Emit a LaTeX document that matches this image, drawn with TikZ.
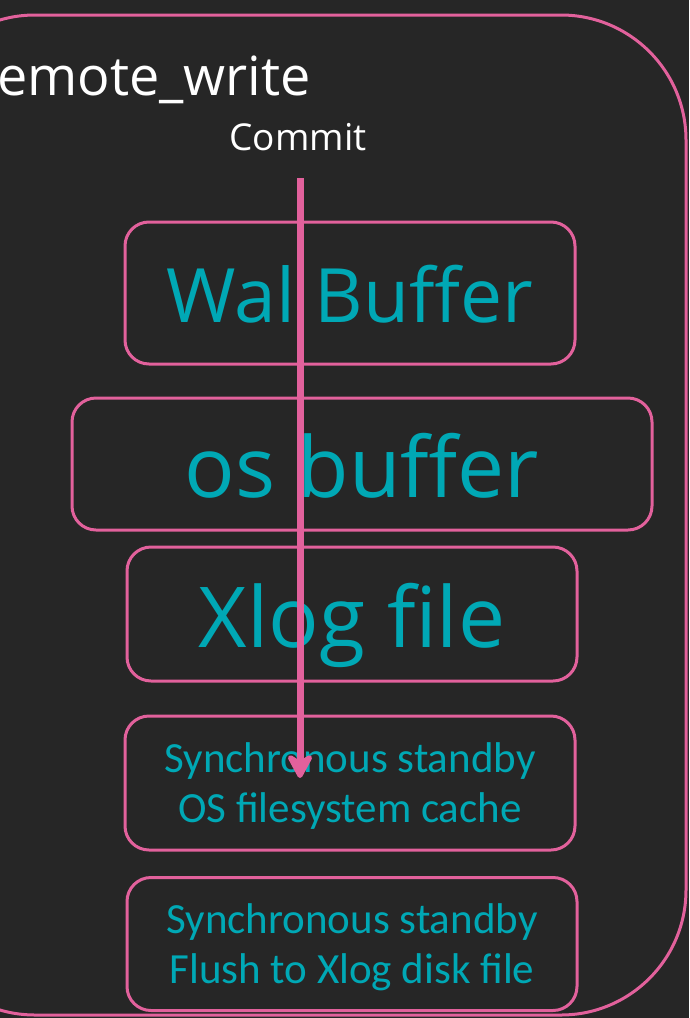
\documentclass[tikz,border=0pt]{standalone}
\usepackage{fontspec}
\setmainfont{Open Sans}
\newfontfamily\calfont{Carlito}
\usetikzlibrary{positioning, arrows.meta}
\definecolor{darkbg}{HTML}{262626}
\definecolor{walpink}{HTML}{E2619C}
\definecolor{walteal}{HTML}{00A8B5}
\tikzset{
    Arrow/.style = {
        line width = 7pt,
        draw = walpink,
        arrows = {-Stealth[length = 30pt 0 0, width = 32pt 0 0, inset = 10pt 0 0, round]}
    }
}

\begin{document}
\begin{tikzpicture}[
x = 1pt, y = -1pt,
box/.style = {
    draw = walpink,
    line width = 3pt,
    rounded corners = 24pt,
    minimum width = 450pt,
    minimum height = 142pt,
    text = walteal,
    align = center,
    inner sep = 0pt
    },
big/.style = {font = \fontsize{84}{90}\selectfont, text height = 66pt, text depth = 0pt},
small/.style = {font = \calfont\fontsize{43}{50}\selectfont, text height = 87pt, text depth = 9pt}
]

\fill [darkbg] (0, 0) rectangle (689, 1018);
\clip (0, 0) rectangle (689, 1018);

\draw [walpink, line width = 3pt, rounded corners = 125pt] (-90, 15) rectangle (686, 1015);

\node [anchor = base east, text = white, font = \fontsize{54}{60}\selectfont, inner sep = 0pt] (0) at (311, 95) {remote\_write};
\node [anchor = base, text = white, font = \fontsize{37}{40}\selectfont, inner sep = 0pt] (c) at (298, 150) {Commit};

\node [box, big, font = \fontsize{75}{80}\selectfont, text height = 58pt] (1) at (350, 293) {Wal Buffer};
\node [box, big, minimum width = 580pt, minimum height = 132pt] (2) at (362, 464) {os buffer};
\node [box, big, minimum height = 134pt] (3) at (352, 614) {Xlog file};
\node [box, small, minimum height = 134pt] (4) at (350, 783) {Synchronous standby\\OS filesystem cache};
\node [box, small, minimum height = 133pt] (5) at (352, 944) {Synchronous standby\\Flush to Xlog disk file};

\coordinate (s) at (300, 178);
\coordinate (e) at (300, 778);
\draw [Arrow] (s) -- (e);

\end{tikzpicture}
\end{document}
